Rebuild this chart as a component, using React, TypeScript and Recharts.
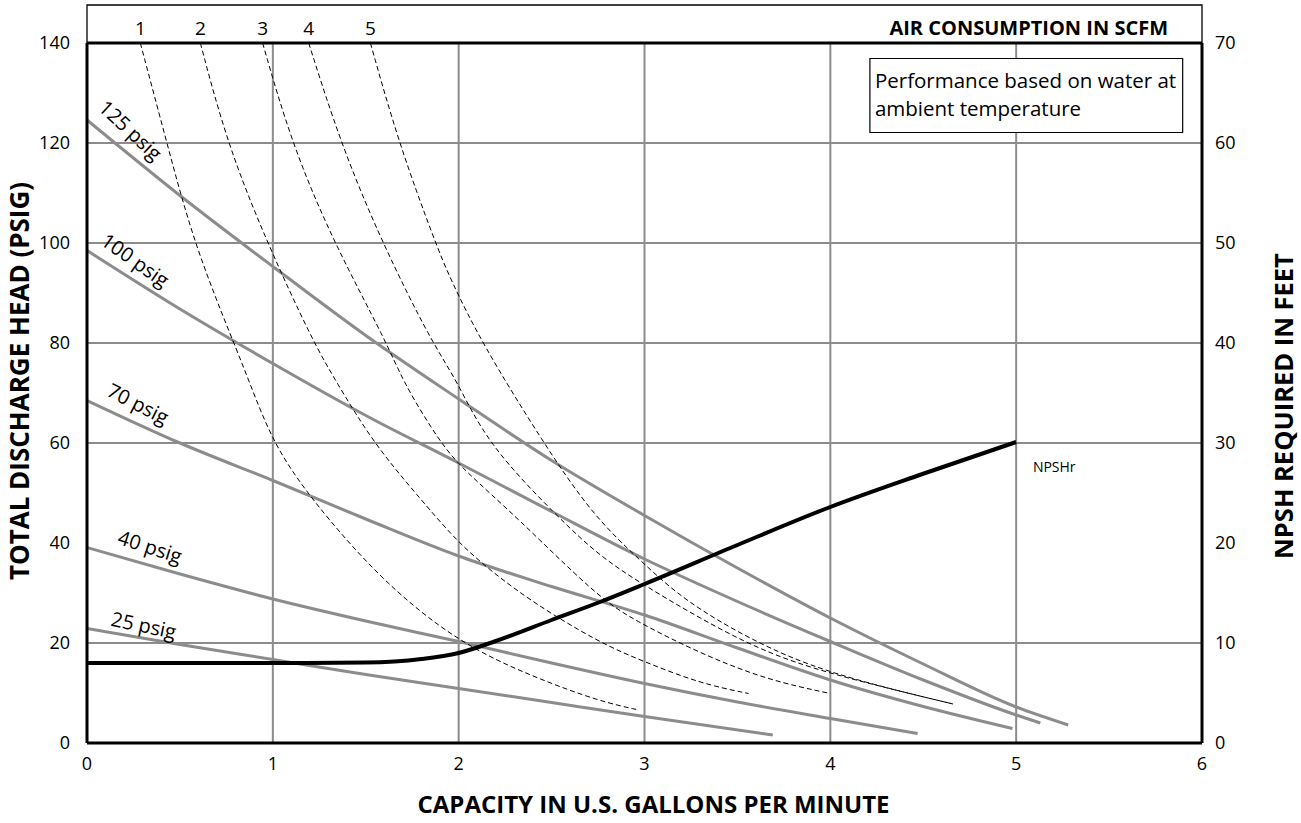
import React from 'react';
import {
  ComposedChart,
  Line,
  XAxis,
  YAxis,
  CartesianGrid,
  ReferenceArea,
  ReferenceDot,
} from 'recharts';

// axes
const CAPACITY_TICKS = [0, 1, 2, 3, 4, 5, 6];
const HEAD_TICKS = [0, 20, 40, 60, 80, 100, 120, 140];
const NPSH_TICKS = [0, 10, 20, 30, 40, 50, 60, 70];
const HEAD_GRID = [20, 60, 80, 100, 120];
const CAPACITY_GRID = [1, 2, 3, 4, 5];

// air consumption curves (scfm), labelled along the top strip
const AIR_LABELS = ['1', '2', '3', '4', '5'];
const AIR_START_X = [0.287, 0.61, 0.945, 1.193, 1.525];

const AIR1_X = [0.287, 0.43, 0.574, 0.79, 0.87, 1.0, 1.2, 1.58, 2.0, 2.4, 2.76, 2.97];
const AIR1_Y = [140, 120, 100, 80, 72.6, 60, 49, 32.6, 20, 13.2, 8.3, 6.6];
const AIR2_X = [0.61, 0.753, 0.969, 1.22, 1.336, 1.54, 1.79, 1.954, 2.1, 2.375, 2.76, 2.995, 3.3, 3.56];
const AIR2_Y = [140, 120, 100, 80, 72.6, 60, 49, 41.9, 36.6, 28.6, 20, 16.3, 11.9, 9.9];
const AIR3_X = [0.945, 1.1, 1.328, 1.615, 1.695, 1.9, 2.03, 2.31, 2.74, 2.94, 3.3, 3.66, 4.0];
const AIR3_Y = [140, 120, 100, 80, 72.6, 60, 54.5, 45.3, 29.5, 24.6, 17.9, 12.6, 9.9];
const AIR4_X = [1.193, 1.364, 1.588, 1.857, 1.99, 2.15, 2.53, 2.76, 2.995, 3.3, 3.62, 3.98, 4.66];
const AIR4_Y = [140, 120, 100, 80, 72.6, 60, 45.3, 37.3, 31.6, 24.9, 18.6, 13.9, 7.8];
const AIR5_X = [1.525, 1.677, 1.875, 1.954, 2.124, 2.456, 2.725, 2.995, 3.21, 3.57, 3.98, 4.66];
const AIR5_Y = [140, 120, 100, 92.9, 80, 60, 45.3, 35.9, 28.6, 20.6, 13.9, 7.8];

// pump curves at inlet air pressure (total discharge head, psig)
const P125_X = [0, 0.5, 1, 1.5, 2, 2.5, 3, 3.5, 4, 4.5, 5, 5.28];
const P125_Y = [124.6, 109.5, 95.3, 81.5, 68.8, 56.5, 45.5, 35, 25, 15.8, 7.2, 3.6];
const P100_X = [0, 0.5, 1, 1.5, 2, 2.5, 3, 3.5, 4, 4.5, 5, 5.13];
const P100_Y = [98.5, 86.8, 75.9, 65.5, 56, 46.3, 36.8, 28.3, 20.3, 12.6, 5.6, 4.0];
const P70_X = [0, 0.5, 1, 1.5, 2, 2.5, 3, 3.5, 4, 4.5, 4.98];
const P70_Y = [68.5, 60, 52.5, 44.8, 37.4, 31.3, 25.6, 19, 12.6, 7.3, 2.9];
const P40_X = [0, 0.5, 1, 1.5, 2, 2.5, 3, 3.5, 4, 4.47];
const P40_Y = [39.1, 33.8, 28.8, 24.4, 20.3, 16, 11.9, 8.2, 4.9, 1.9];
const P25_X = [0, 0.5, 1, 1.5, 2, 2.5, 3, 3.69];
const P25_Y = [22.9, 19.7, 16.7, 13.7, 10.9, 8.1, 5.3, 1.6];

// NPSH required (feet, right axis)
const NPSH_X = [0, 1, 1.5, 1.8, 2, 2.2, 2.5, 2.76, 3, 3.5, 4, 4.48, 5];
const NPSH_Y = [8, 8, 8.05, 8.4, 9, 10.2, 12.3, 14.1, 15.9, 19.8, 23.6, 26.8, 30.1];

const PSIG_LABELS = ['125 psig', '100 psig', '70 psig', '40 psig', '25 psig'];

// annotation anchors (data space) and text angles
const PSIG_LABEL_AT = [
  { x: 0.235, y: 122.6, angle: 43 },
  { x: 0.26, y: 96.6, angle: 35 },
  { x: 0.275, y: 67.9, angle: 27 },
  { x: 0.34, y: 39.3, angle: 18 },
  { x: 0.305, y: 23.6, angle: 12 },
];

const toPoints = (xs: number[], ys: number[]) => xs.map((x, i) => ({ x, y: ys[i] }));

const pumpCurves = [
  toPoints(P125_X, P125_Y),
  toPoints(P100_X, P100_Y),
  toPoints(P70_X, P70_Y),
  toPoints(P40_X, P40_Y),
  toPoints(P25_X, P25_Y),
];
const airCurves = [
  toPoints(AIR1_X, AIR1_Y),
  toPoints(AIR2_X, AIR2_Y),
  toPoints(AIR3_X, AIR3_Y),
  toPoints(AIR4_X, AIR4_Y),
  toPoints(AIR5_X, AIR5_Y),
];
const npshCurve = toPoints(NPSH_X, NPSH_Y);

const FONT = '"Open Sans", sans-serif';
const GREY = '#8c8c8c';
const tickStyle = { fontSize: 18, fill: '#000', fontFamily: FONT };

const App = () => {
  return (
    <div style={{ width: 1301, height: 823, fontFamily: FONT }}>
      <style>{'body{margin:0}'}</style>
      <ComposedChart width={1301} height={823} margin={{ top: 0, right: 0, bottom: 0, left: 0 }}>
        <CartesianGrid
          stroke={GREY}
          strokeWidth={2}
          horizontalValues={HEAD_GRID}
          verticalValues={CAPACITY_GRID}
        />
        <XAxis
          type="number"
          dataKey="x"
          domain={[0, 6]}
          ticks={CAPACITY_TICKS}
          allowDataOverflow
          height={80}
          axisLine={{ stroke: '#000', strokeWidth: 3 }}
          tickLine={false}
          tickSize={0}
          tickMargin={14}
          tick={tickStyle}
          label={({ viewBox }: any) => (
            <text
              x={viewBox.x + viewBox.width / 2 + 9}
              y={viewBox.y + 70}
              textAnchor="middle"
              fontSize={24}
              fontWeight={700}
              fontFamily={FONT}
            >
              CAPACITY IN U.S. GALLONS PER MINUTE
            </text>
          )}
        />
        <XAxis
          xAxisId="top"
          orientation="top"
          type="number"
          domain={[0, 6]}
          ticks={CAPACITY_TICKS}
          tick={false}
          height={43}
          axisLine={{ stroke: '#000', strokeWidth: 3 }}
          tickLine={false}
          label={({ viewBox }: any) => (
            <g>
              <path
                d={`M${viewBox.x},${viewBox.y + 43} V${viewBox.y + 5} H${viewBox.x + viewBox.width} V${viewBox.y + 43}`}
                fill="none"
                stroke="#000"
                strokeWidth={1.3}
              />
              <text
                x={viewBox.x + viewBox.width - 34}
                y={viewBox.y + 35}
                textAnchor="end"
                fontSize={20}
                fontWeight={700}
                fontFamily={FONT}
              >
                AIR CONSUMPTION IN SCFM
              </text>
            </g>
          )}
        />
        <YAxis
          type="number"
          domain={[0, 140]}
          ticks={HEAD_TICKS}
          allowDataOverflow
          width={87}
          axisLine={{ stroke: '#000', strokeWidth: 3 }}
          tickLine={false}
          tickSize={0}
          tickMargin={17}
          tick={tickStyle}
          label={({ viewBox }: any) => {
            const cx = viewBox.x + 19;
            const cy = viewBox.y + viewBox.height / 2 - 12;
            return (
              <text
                x={cx}
                y={cy}
                transform={`rotate(-90 ${cx} ${cy})`}
                textAnchor="middle"
                dominantBaseline="central"
                fontSize={26}
                fontWeight={700}
                fontFamily={FONT}
              >
                TOTAL DISCHARGE HEAD (PSIG)
              </text>
            );
          }}
        />
        <YAxis
          yAxisId="right"
          orientation="right"
          type="number"
          domain={[0, 70]}
          ticks={NPSH_TICKS}
          allowDataOverflow
          width={99}
          axisLine={{ stroke: '#000', strokeWidth: 3 }}
          tickLine={false}
          tickSize={0}
          tickMargin={13}
          tick={tickStyle}
          label={({ viewBox }: any) => {
            const cx = viewBox.x + 81;
            const cy = viewBox.y + viewBox.height / 2 + 13;
            return (
              <text
                x={cx}
                y={cy}
                transform={`rotate(-90 ${cx} ${cy})`}
                textAnchor="middle"
                dominantBaseline="central"
                fontSize={25.5}
                fontWeight={700}
                fontFamily={FONT}
              >
                NPSH REQUIRED IN FEET
              </text>
            );
          }}
        />

        <ReferenceArea
          x1={4.213}
          x2={5.896}
          y1={122.1}
          y2={136.9}
          fill="#fff"
          fillOpacity={1}
          stroke="#000"
          strokeWidth={1.2}
          ifOverflow="visible"
          label={({ viewBox }: any) => (
            <text x={viewBox.x + 5} y={viewBox.y + 29} fontSize={20.5} fontFamily={FONT} fill="#000">
              <tspan x={viewBox.x + 5}>Performance based on water at</tspan>
              <tspan x={viewBox.x + 5} dy={28}>ambient temperature</tspan>
            </text>
          )}
        />

        {pumpCurves.map((data, i) => (
          <Line
            key={`pump-${i}`}
            data={data}
            dataKey="y"
            type="monotone"
            stroke={GREY}
            strokeWidth={3}
            dot={false}
            activeDot={false}
            isAnimationActive={false}
          />
        ))}
        {airCurves.map((data, i) => (
          <Line
            key={`air-${i}`}
            data={data}
            dataKey="y"
            type="basis"
            stroke="#000"
            strokeWidth={1}
            strokeDasharray="5 3"
            dot={false}
            activeDot={false}
            isAnimationActive={false}
          />
        ))}
        <Line
          yAxisId="right"
          data={npshCurve}
          dataKey="y"
          type="monotone"
          stroke="#000"
          strokeWidth={4}
          dot={false}
          activeDot={false}
          isAnimationActive={false}
        />

        {AIR_LABELS.map((text, i) => (
          <ReferenceDot
            key={`air-label-${text}`}
            x={AIR_START_X[i]}
            y={140}
            r={0}
            ifOverflow="visible"
            shape={(p: any) => (
              <text
                x={p.cx}
                y={p.cy - 8}
                textAnchor="middle"
                fontSize={19}
                fontFamily={FONT}
                fill="#000"
              >
                {text}
              </text>
            )}
          />
        ))}
        {PSIG_LABELS.map((text, i) => {
          const at = PSIG_LABEL_AT[i];
          return (
            <ReferenceDot
              key={text}
              x={at.x}
              y={at.y}
              r={0}
              ifOverflow="visible"
              shape={(p: any) => (
                <text
                  x={p.cx}
                  y={p.cy}
                  transform={`rotate(${at.angle} ${p.cx} ${p.cy})`}
                  textAnchor="middle"
                  dominantBaseline="central"
                  fontSize={20}
                  fontFamily={FONT}
                  fill="#000"
                >
                  {text}
                </text>
              )}
            />
          );
        })}
        <ReferenceDot
          yAxisId="right"
          x={5.09}
          y={27.7}
          r={0}
          ifOverflow="visible"
          shape={(p: any) => (
            <text
              x={p.cx}
              y={p.cy}
              dominantBaseline="central"
              fontSize={14}
              fontFamily={FONT}
              fill="#000"
            >
              NPSHr
            </text>
          )}
        />
      </ComposedChart>
    </div>
  );
};

export default App;
